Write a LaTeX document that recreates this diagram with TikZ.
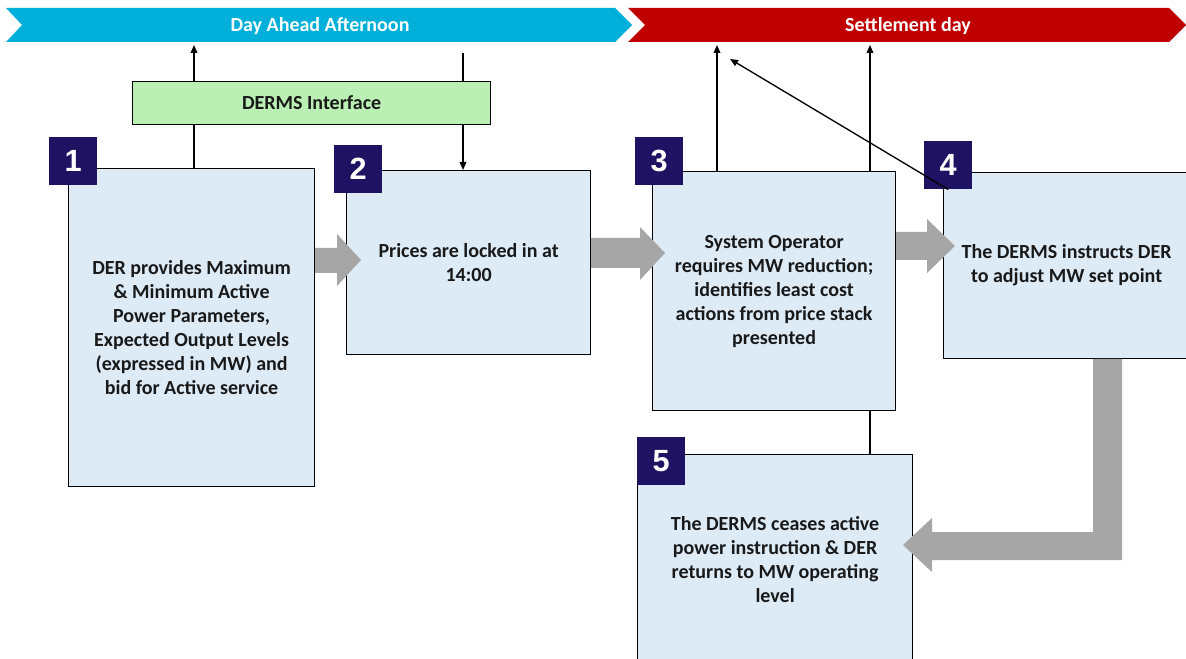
\documentclass[tikz,border=0pt]{standalone}
\usepackage{fontspec}
\setmainfont{Carlito}
\newfontfamily\digitfont{Liberation Sans}
\usetikzlibrary{arrows.meta}

\definecolor{boxBlue}{RGB}{221,235,247}
\definecolor{badgeNavy}{RGB}{32,18,98}
\definecolor{dermsGreen}{RGB}{186,240,180}
\definecolor{bannerBlue}{RGB}{0,176,218}
\definecolor{bannerRed}{RGB}{192,0,0}
\definecolor{blockGrey}{RGB}{166,166,166}
\definecolor{textDark}{RGB}{25,25,25}

\begin{document}
\begin{tikzpicture}[x=0.75pt,y=-0.75pt,%%
  lineStyle/.style={line width=1pt,-{Triangle[length=6pt,width=5pt]}},%%
  plainStyle/.style={line width=1pt},%%
  boxStyle/.style={draw,line width=0.9pt,fill=boxBlue,anchor=north west,inner sep=0pt,
    align=center,text=textDark,font=\bfseries\fontsize{15pt}{18pt}\selectfont},%%
  badgeStyle/.style={fill=badgeNavy,anchor=north west,inner sep=0pt,minimum size=36pt,
    text=white,font=\digitfont\bfseries\fontsize{23pt}{23pt}\selectfont},%%
  blockStyle/.style={fill=blockGrey,draw=none},%%
  bannerTextStyle/.style={text=white,font=\bfseries\fontsize{15pt}{18pt}\selectfont}
]
\useasboundingbox (0,0) rectangle (1186,659);
%%
%% The two time banners.
%%
\fill[bannerBlue] (6,8) -- (615,8) -- (632,25) -- (615,42) -- (6,42) -- (22,25) -- cycle;
\fill[bannerRed] (628,8) -- (1169,8) -- (1186,25) -- (1169,42) -- (628,42) -- (645,25) -- cycle;
\node[bannerTextStyle] (dayAhead) at (320,26) {Day Ahead Afternoon};
\node[bannerTextStyle] (settlement) at (908,26) {Settlement day};
%%
%% The interface and the five steps.
%%
\node[boxStyle,fill=dermsGreen,minimum width=358*0.75pt,minimum height=43*0.75pt]
  (derms) at (132,81) {DERMS Interface};
\node[boxStyle,minimum width=246*0.75pt,minimum height=318*0.75pt] (box1) at (68,168)
  {DER provides Maximum\\ \& Minimum Active\\ Power Parameters,\\ Expected Output Levels\\
   (expressed in MW) and\\ bid for Active service};
\node[boxStyle,minimum width=244*0.75pt,minimum height=184*0.75pt] (box2) at (346,170)
  {Prices are locked in at\\ 14:00};
\node[boxStyle,minimum width=243*0.75pt,minimum height=239*0.75pt] (box3) at (652,171)
  {System Operator\\ requires MW reduction;\\ identifies least cost\\ actions from price stack\\ presented};
\node[boxStyle,minimum width=246*0.75pt,minimum height=186*0.75pt] (box4) at (943,172)
  {The DERMS instructs DER\\ to adjust MW set point};
\node[boxStyle,minimum width=275*0.75pt,minimum height=210*0.75pt] (box5) at (637,454)
  {The DERMS ceases active\\ power instruction \& DER\\ returns to MW operating\\ level};
%%
%% The step numbers.
\node[badgeStyle] (badge1) at (49,137) {1};
\node[badgeStyle] (badge2) at (334,145) {2};
\node[badgeStyle] (badge3) at (635,137) {3};
\node[badgeStyle] (badge4) at (924,141) {4};
\node[badgeStyle] (badge5) at (637,437) {5};
%%
%% Thin connectors.
%%
\coordinate (upOne) at (194,45);
\coordinate (downTwo) at (463,53);
\coordinate (upThreeA) at (717,45);
\coordinate (upThreeB) at (870,45);
\coordinate (diagTip) at (730,59);
\draw[plainStyle] (box1.north -| upOne) -- (derms.south -| upOne);
\draw[lineStyle] (derms.north -| upOne) -- (upOne);
\draw[plainStyle] (downTwo) -- (derms.north -| downTwo);
\draw[lineStyle] (derms.south -| downTwo) -- (box2.north -| downTwo);
\draw[lineStyle] (box3.north -| upThreeA) -- (upThreeA);
\draw[lineStyle] (box3.north -| upThreeB) -- (upThreeB);
\draw[lineStyle] (badge4.south) -- (diagTip);
\draw[plainStyle] (box3.south -| upThreeB) -- (box5.north -| upThreeB);
%%
%% Grey block arrows between the steps.
%%
\fill[blockStyle] (315,248) -- (337,248) -- (337,234) -- (361,260) -- (337,286) -- (337,273) -- (315,273) -- cycle;
\fill[blockStyle] (591,238) -- (640,238) -- (640,227) -- (665,253) -- (640,280) -- (640,268) -- (591,268) -- cycle;
\fill[blockStyle] (896,232) -- (927,232) -- (927,219) -- (955,246) -- (927,273) -- (927,260) -- (896,260) -- cycle;
\fill[blockStyle] (1093,359) -- (1122,359) -- (1122,560) -- (932,560) -- (932,572) -- (903,545)
  -- (932,518) -- (932,532) -- (1093,532) -- cycle;
\end{tikzpicture}
\end{document}
